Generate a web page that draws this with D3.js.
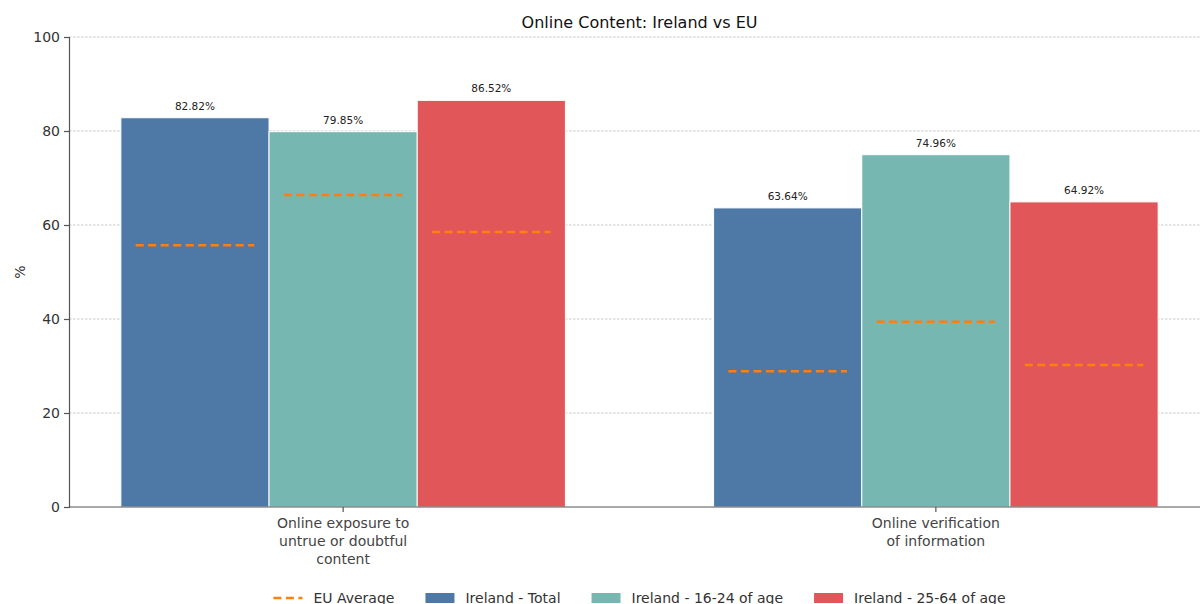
<!DOCTYPE html>
<html><head><meta charset="utf-8">
<script src="https://cdn.jsdelivr.net/npm/d3@7"></script>
<style>body{margin:0;background:#fff;} svg{display:block;font-family:"DejaVu Sans",sans-serif;}</style>
</head><body>
<svg id="chart" width="1200" height="604"></svg>
<script>
const categoryLines = [["Online exposure to","untrue or doubtful","content"],["Online verification","of information"]];
const seriesNames = ["Ireland - Total","Ireland - 16-24 of age","Ireland - 25-64 of age"];
const irelandTotal = [82.82, 63.64];
const ireland1624 = [79.85, 74.96];
const ireland2564 = [86.52, 64.92];
const euTotal = [55.7, 28.9];
const eu1624 = [66.4, 39.4];
const eu2564 = [58.5, 30.2];
const yTicks = [0, 20, 40, 60, 80, 100];
const colors = ["#4e79a7", "#76b7b2", "#e15759"];
const euColor = "#ff7f0e";

const series = [irelandTotal, ireland1624, ireland2564];
const euSeries = [euTotal, eu1624, eu2564];
const barW = 0.25;

const svg = d3.select("#chart");
const x = d3.scaleLinear().domain([-0.4625, 1.4625]).range([69, 1210]);
const y = d3.scaleLinear().domain([0, 100]).range([507, 37]);

// grid
svg.append("g").selectAll("line").data(yTicks.filter(d => d > 0)).join("line")
  .attr("x1", 69).attr("x2", 1210).attr("y1", d => y(d)).attr("y2", d => y(d))
  .attr("stroke", "#b0b0b0").attr("stroke-width", 0.7).attr("stroke-dasharray", "2.5,1.5");

// bars
const bars = [];
series.forEach((vals, si) => vals.forEach((v, ci) => bars.push({si, ci, v, eu: euSeries[si][ci]})));
const gBars = svg.append("g");
gBars.selectAll("rect").data(bars).join("rect")
  .attr("x", d => x(d.ci + (d.si - 1) * barW - barW / 2))
  .attr("width", d => x(barW) - x(0))
  .attr("y", d => y(d.v))
  .attr("height", d => y(0) - y(d.v))
  .attr("fill", d => colors[d.si])
  .attr("stroke", "#fff").attr("stroke-width", 1);

// value labels
svg.append("g").selectAll("text").data(bars).join("text")
  .attr("x", d => x(d.ci + (d.si - 1) * barW))
  .attr("y", d => y(d.v) - 8)
  .attr("text-anchor", "middle").attr("font-size", 10.5).attr("fill", "#222")
  .text(d => d.v.toFixed(2) + "%");

// EU lines
svg.append("g").selectAll("line").data(bars).join("line")
  .attr("x1", d => x(d.ci + (d.si - 1) * barW - 0.1))
  .attr("x2", d => x(d.ci + (d.si - 1) * barW + 0.1))
  .attr("y1", d => y(d.eu)).attr("y2", d => y(d.eu))
  .attr("stroke", euColor).attr("stroke-width", 2.5).attr("stroke-dasharray", "8,4.5");

// y axis
const yAxis = d3.axisLeft(y).tickValues(yTicks).tickSize(5).tickPadding(4).tickFormat(d3.format("d"));
const gy = svg.append("g").attr("transform", "translate(69,0)").call(yAxis);
gy.select(".domain").attr("stroke", "#555").attr("stroke-width", 1.2);
gy.selectAll(".tick line").attr("stroke", "#555").attr("stroke-width", 1.2);
gy.selectAll(".tick text").attr("font-size", 14).attr("fill", "#333").attr("font-family", "DejaVu Sans");

// x axis
const gx = svg.append("g").attr("transform", "translate(0,507)");
gx.append("line").attr("x1", 69).attr("x2", 1210).attr("stroke", "#555").attr("stroke-width", 1.2);
categoryLines.forEach((lines, ci) => {
  gx.append("line").attr("x1", x(ci)).attr("x2", x(ci)).attr("y1", 0).attr("y2", 5).attr("stroke", "#555").attr("stroke-width", 1.2);
  const t = gx.append("text").attr("text-anchor", "middle").attr("font-size", 14).attr("fill", "#444");
  lines.forEach((l, li) => t.append("tspan").attr("x", x(ci)).attr("y", 21 + li * 18).text(l));
});

// y label
svg.append("text").attr("transform", "translate(25,272) rotate(-90)").attr("text-anchor", "middle")
  .attr("font-size", 14).attr("fill", "#333").text("%");

// title
svg.append("text").attr("x", (69 + 1210) / 2).attr("y", 28).attr("text-anchor", "middle")
  .attr("font-size", 16).attr("fill", "#111").text("Online Content: Ireland vs EU");

// legend
const legendItems = [{label: "EU Average", type: "line", color: euColor}]
  .concat(seriesNames.map((n, i) => ({label: n, type: "rect", color: colors[i]})));
const gl = svg.append("g");
let cx = 0;
const ly = 598;
legendItems.forEach(it => {
  const g = gl.append("g").attr("transform", `translate(${cx},0)`);
  if (it.type === "line") {
    g.append("line").attr("x1", 0).attr("x2", 29).attr("y1", ly).attr("y2", ly)
      .attr("stroke", it.color).attr("stroke-width", 2.5).attr("stroke-dasharray", "8,4.5");
  } else {
    g.append("rect").attr("x", 0).attr("y", ly - 5).attr("width", 29).attr("height", 10).attr("fill", it.color);
  }
  const t = g.append("text").attr("x", 40).attr("y", ly + 5).attr("font-size", 14).attr("fill", "#333").text(it.label);
  cx += 40 + t.node().getComputedTextLength() + 31;
});
const totalW = cx - 31;
gl.attr("transform", `translate(${(69 + 1210) / 2 - totalW / 2},0)`);
</script>
</body></html>
